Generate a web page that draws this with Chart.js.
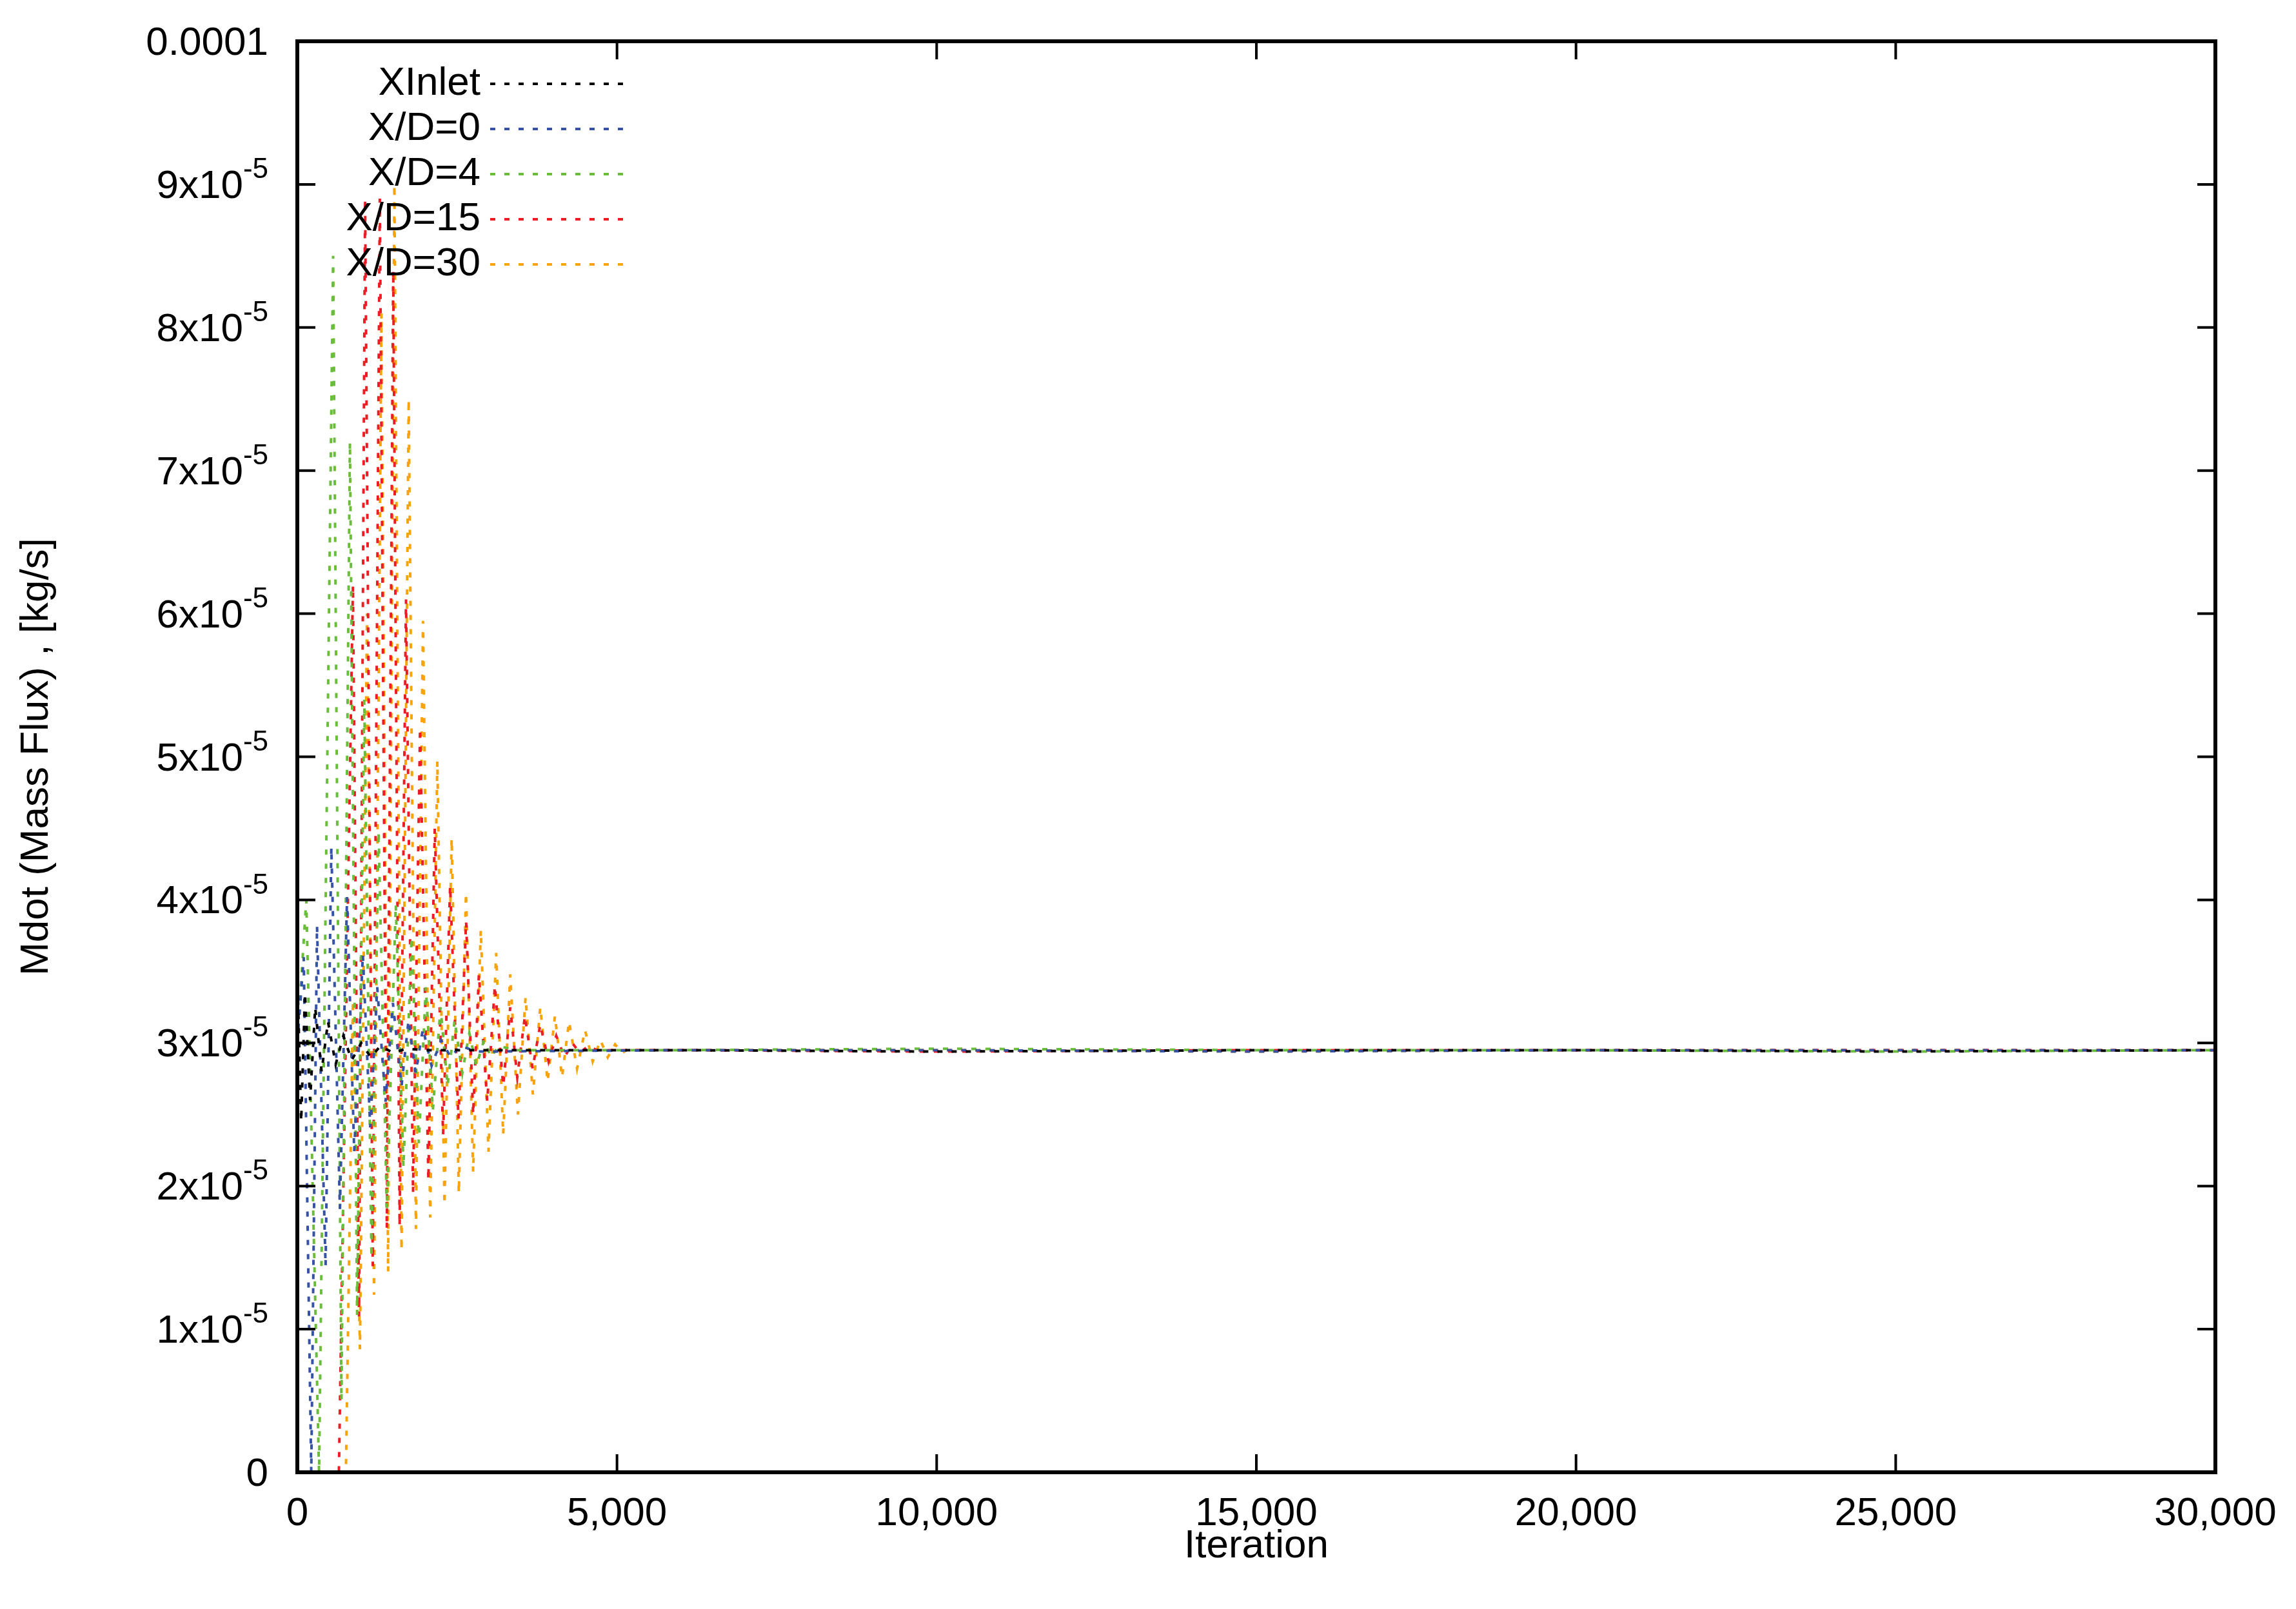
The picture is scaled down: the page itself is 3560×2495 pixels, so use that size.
<!DOCTYPE html>
<html><head><meta charset="utf-8">
<script src="https://cdn.jsdelivr.net/npm/chart.js@4.4.1/dist/chart.umd.min.js"></script>
<style>html,body{margin:0;padding:0;background:#fff}#wrap{width:3560px;height:2495px}</style>
</head><body><div id="wrap"><canvas id="c"></canvas></div>
<script>
// values in units of 1e-5 kg/s
const seriesLabels = ["XInlet","X/D=0","X/D=4","X/D=15","X/D=30"];
const seriesColors = ["#000000","#3552a6","#6abd3a","#ec1c24","#f7a30b"];
const inletX = [0,60,120,200,280,380,480,600,720,850,1000,1150,1300,1500,1700,2000,6000,10000,15000,20000,25000,30000];
const inletY = [3.5,2.45,3.35,2.6,3.25,2.8,3.15,2.85,3.05,2.88,3.0,2.9,2.98,2.93,2.96,2.95,2.95,2.94,2.95,2.95,2.94,2.95];
const xd0X = [0,100,218,308,442,532,666,778,890,1025,1140,1250,1380,1495,1630,1740,1850,1965,2100,2250,2400,2550,2800,6000,10000,15000,20000,25000,30000];
const xd0Y = [3.0,3.6,0.0,3.82,1.44,4.37,1.84,4.02,2.24,3.62,2.41,3.39,2.59,3.28,2.7,3.16,2.79,3.1,2.84,3.02,2.9,2.98,2.94,2.95,2.95,2.94,2.95,2.95,2.95];
const xd4X = [0,140,340,560,690,823,935,1047,1160,1271,1400,1540,1660,1787,1900,2010,2120,2240,2350,2460,2580,2690,2800,2920,3030,3150,3400,6000,10000,15000,20000,25000,30000];
const xd4Y = [3.0,4.0,0.0,8.5,0.5,7.2,1.1,5.4,1.5,4.48,1.84,3.97,2.13,3.74,2.3,3.39,2.53,3.25,2.7,3.16,2.79,3.07,2.84,3.02,2.9,2.98,2.95,2.95,2.96,2.95,2.95,2.94,2.95];
const xd15X = [0,600,650,870,965,1060,1180,1290,1400,1500,1600,1700,1810,1920,2050,2150,2280,2390,2520,2640,2750,2840,2970,3090,3220,3330,3440,3560,3680,3800,3930,4050,4180,4300,4420,4550,4680,6000,10000,15000,20000,25000,30000];
const xd15Y = [0.0,0.0,0.0,6.2,1.09,8.9,1.44,8.9,1.7,8.4,1.72,6.1,1.95,5.2,2.04,4.5,2.36,4.1,2.47,3.85,2.5,3.48,2.59,3.4,2.7,3.25,2.76,3.19,2.82,3.13,2.87,3.05,2.9,3.0,2.93,2.98,2.95,2.95,2.94,2.95,2.95,2.95,2.95];
const xd30X = [0,600,760,870,980,1090,1200,1316,1420,1518,1630,1742,1855,1966,2078,2190,2302,2414,2526,2638,2750,2870,2990,3110,3220,3330,3450,3570,3685,3800,3915,4030,4140,4250,4375,4500,4620,4740,4855,4970,5085,5200,5300,6000,10000,15000,20000,25000,30000];
const xd30Y = [0.0,0.0,0.0,3.3,0.86,6.0,1.24,8.1,1.4,9.0,1.55,7.5,1.7,5.95,1.78,4.97,1.87,4.43,1.95,4.05,2.1,3.79,2.24,3.63,2.36,3.48,2.5,3.32,2.64,3.25,2.73,3.19,2.76,3.15,2.82,3.09,2.87,3.02,2.9,2.99,2.93,2.97,2.95,2.95,2.95,2.94,2.95,2.95,2.95];
const xTicks = [0,5000,10000,15000,20000,25000,30000];
const yTicks = [0,1,2,3,4,5,6,7,8,9,10];
const yTickBase = ["0","1x10","2x10","3x10","4x10","5x10","6x10","7x10","8x10","9x10","0.0001"];
const yTickSup  = ["","-5","-5","-5","-5","-5","-5","-5","-5","-5",""];

const xs=[inletX,xd0X,xd4X,xd15X,xd30X], ys=[inletY,xd0Y,xd4Y,xd15Y,xd30Y];
const FONT='"Liberation Sans", Arial, sans-serif';
const datasets = seriesLabels.map((l,i)=>({label:l,data:xs[i].map((x,j)=>({x:x,y:ys[i][j]})),
  borderColor:seriesColors[i],borderWidth:4,borderDash:[8,14],pointRadius:0,fill:false,tension:0}));

const deco = {id:'deco',afterDraw(ch){
  const c=ch.ctx,a=ch.chartArea,xs_=ch.scales.x,ys_=ch.scales.y;
  c.save();
  // ticks inward
  c.strokeStyle='#000';c.lineWidth=4;
  xTicks.forEach(v=>{const p=xs_.getPixelForValue(v);c.beginPath();c.moveTo(p,a.bottom);c.lineTo(p,a.bottom-28);c.moveTo(p,a.top);c.lineTo(p,a.top+28);c.stroke();});
  yTicks.forEach(v=>{const p=ys_.getPixelForValue(v);c.beginPath();c.moveTo(a.left,p);c.lineTo(a.left+28,p);c.moveTo(a.right,p);c.lineTo(a.right-28,p);c.stroke();});
  c.lineWidth=6;c.strokeRect(a.left,a.top,a.right-a.left,a.bottom-a.top);
  // y tick labels
  c.fillStyle='#000';c.textBaseline='middle';
  yTicks.forEach((v,i)=>{const p=ys_.getPixelForValue(v);let xr=a.left-45;
    if(yTickSup[i]){c.font='44px '+FONT;c.textAlign='right';c.fillText(yTickSup[i],xr,p-22);xr-=c.measureText(yTickSup[i]).width;}
    c.font='62px '+FONT;c.textAlign='right';c.fillText(yTickBase[i],xr,p+4);});
  // legend
  c.font='62px '+FONT;
  seriesLabels.forEach((l,i)=>{const y=130+i*70;c.fillStyle='#000';c.textAlign='right';c.fillText(l,745,y);
    c.strokeStyle=seriesColors[i];c.lineWidth=4;c.setLineDash([8,14]);c.beginPath();c.moveTo(760,y);c.lineTo(975,y);c.stroke();c.setLineDash([]);});
  // axis titles
  c.textAlign='center';c.fillText('Iteration',(a.left+a.right)/2,2398);
  c.translate(57,(a.top+a.bottom)/2);c.rotate(-Math.PI/2);c.fillText('Mdot (Mass Flux) , [kg/s]',0,0);
  c.restore();
}};

new Chart(document.getElementById('c'),{type:'line',data:{datasets},
 options:{responsive:true,maintainAspectRatio:false,animation:false,
  layout:{padding:{top:64,right:125,left:0,bottom:0}},
  plugins:{legend:{display:false},tooltip:{enabled:false}},
  scales:{
   x:{type:'linear',min:0,max:30000,afterFit(s){s.height=212;},
      afterBuildTicks(s){s.ticks=xTicks.map(v=>({value:v}));},
      grid:{display:false},border:{display:false},
      ticks:{color:'#000',font:{size:62,family:FONT},padding:20,maxRotation:0}},
   y:{type:'linear',min:0,max:10,afterFit(s){s.width=461;},
      afterBuildTicks(s){s.ticks=yTicks.map(v=>({value:v}));},
      grid:{display:false},border:{display:false},
      ticks:{display:false}}
  }},plugins:[deco]});
</script></body></html>
